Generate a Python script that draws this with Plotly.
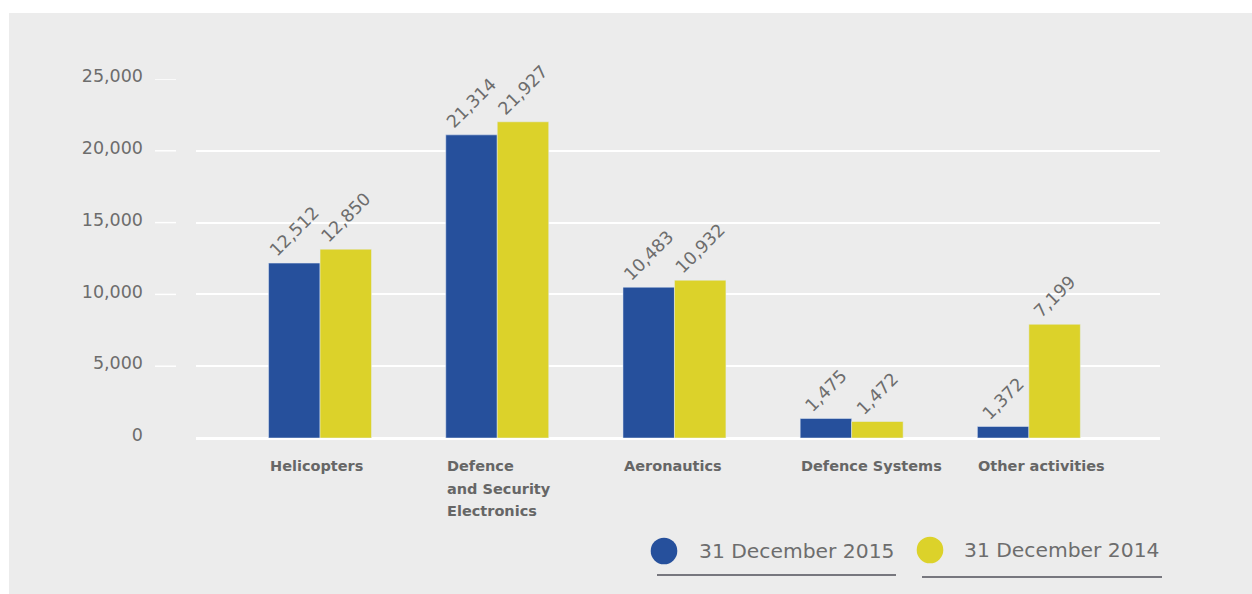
import plotly.graph_objects as go

# ---- data ----
categories = ["Helicopters", "Defence<br>and Security<br>Electronics", "Aeronautics",
              "Defence Systems", "Other activities"]
series_names = ["31 December 2015", "31 December 2014"]
values_2015 = [12180, 21110, 10500, 1360, 800]      # bar heights as drawn
values_2014 = [13150, 22020, 10990, 1150, 7920]
labels_2015 = ["12,512", "21,314", "10,483", "1,475", "1,372"]  # printed labels
labels_2014 = ["12,850", "21,927", "10,932", "1,472", "7,199"]
y_ticks = [0, 5000, 10000, 15000, 20000, 25000]
y_tick_text = ["0", "5,000", "10,000", "15,000", "20,000", "25,000"]

BLUE = "#26509c"
YELLOW = "#dcd22a"
BG = "#ececec"
TXT = "#6d6d6d"
FONT = "DejaVu Sans"

W, H = 1252, 594
L, R, T, B = 196, 92, 79, 156
PW, PH = W - L - R, H - T - B


def px(x):
    return (x - L) / PW


def py(y):
    return (H - B - y) / PH


idx = list(range(len(categories)))

fig = go.Figure()
for vals, labs, name, col in [(values_2015, labels_2015, series_names[0], BLUE),
                              (values_2014, labels_2014, series_names[1], YELLOW)]:
    fig.add_trace(go.Bar(x=idx, y=vals, name=name, marker_color=col,
                         text=labs, textposition="outside", textangle=-45,
                         constraintext="none",
                         textfont=dict(family=FONT, size=17.5, color=TXT), cliponaxis=False))

shapes = []
annotations = []

# white strips at top/left, gray background elsewhere
shapes.append(dict(type="rect", xref="paper", yref="paper", x0=px(0), x1=px(W + 5),
                   y0=py(0), y1=py(13), fillcolor="white", line_width=0, layer="below"))
shapes.append(dict(type="rect", xref="paper", yref="paper", x0=px(0), x1=px(9),
                   y0=py(H + 5), y1=py(0), fillcolor="white", line_width=0, layer="below"))

# detached tick dashes
for t in y_ticks[1:]:
    shapes.append(dict(type="line", xref="paper", yref="y", x0=px(155), x1=px(176),
                       y0=t, y1=t, line=dict(color="white", width=1.5)))

# category labels (left aligned at group left edge), each line separately
half_group = (1 - 0.419) / 2
for i, c in enumerate(categories):
    for j, line in enumerate(c.split("<br>")):
        annotations.append(dict(x=i - half_group, y=py(466 + 22.5 * j), xref="x", yref="paper",
                                text=line, showarrow=False, xanchor="left", yanchor="middle",
                                font=dict(family=FONT, size=14.5, color="#666666",
                                          weight="bold"),
                                xshift=-1))

# custom legend
leg = [(664, 551, 697, 657, 896, 575, BLUE), (930, 550, 962, 922, 1162, 577, YELLOW)]
r = 13.3
for (cx, cy, tx, u0, u1, uy, col), name in zip(leg, series_names):
    shapes.append(dict(type="circle", xref="paper", yref="paper",
                       x0=px(cx - r), x1=px(cx + r), y0=py(cy + r), y1=py(cy - r),
                       fillcolor=col, line_width=0))
    shapes.append(dict(type="line", xref="paper", yref="paper",
                       x0=px(u0), x1=px(u1), y0=py(uy), y1=py(uy),
                       line=dict(color="#50505a", width=1.3)))
    annotations.append(dict(x=px(tx), y=py(cy), xref="paper", yref="paper", text=name,
                            showarrow=False, xanchor="left", yanchor="middle",
                            font=dict(family=FONT, size=20.3, color=TXT)))

fig.update_layout(
    width=W, height=H,
    margin=dict(l=L, r=R, t=T, b=B, pad=0),
    paper_bgcolor=BG, plot_bgcolor=BG,
    barmode="group", bargap=0.419, bargroupgap=0,
    showlegend=False,
    shapes=shapes, annotations=annotations,
    xaxis=dict(range=[-0.70, 4.74], showticklabels=False, showgrid=False, zeroline=False,
               showline=False, ticks="", fixedrange=True),
    yaxis=dict(range=[0, 25000], tickvals=y_ticks, ticktext=y_tick_text,
               showgrid=True, gridcolor="white", gridwidth=1.5,
               zeroline=True, zerolinecolor="white", zerolinewidth=3,
               showline=False, ticks="", ticklabelstandoff=52, ticklabelshift=-3,
               tickfont=dict(family=FONT, size=17.5, color=TXT), fixedrange=True),
)

fig.write_html("out.html")
